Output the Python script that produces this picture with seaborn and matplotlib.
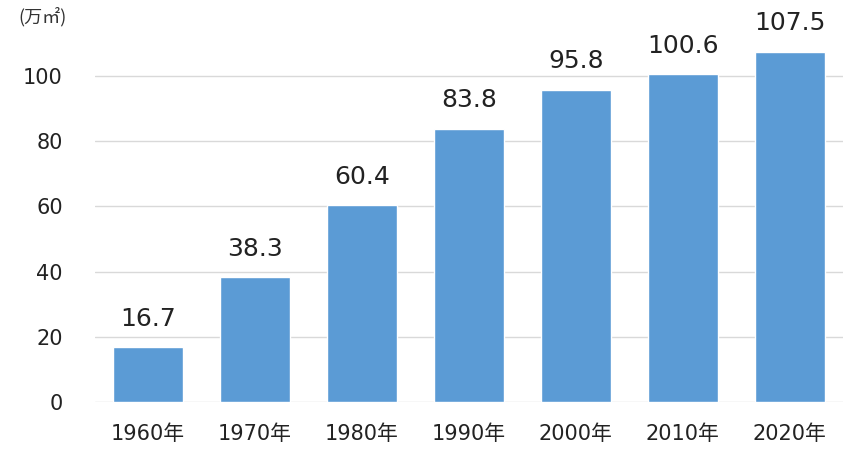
import pandas as pd
import matplotlib.pyplot as plt
import seaborn as sns

years = ['1960年', '1970年', '1980年', '1990年', '2000年', '2010年', '2020年']
areas = [16.7, 38.3, 60.4, 83.8, 95.8, 100.6, 107.5]

df = pd.DataFrame({'year': years, 'area': areas})

sns.set_style('white')
plt.rcParams['font.family'] = ['DejaVu Sans', 'Noto Sans CJK JP']

fig = plt.figure(figsize=(8.45, 4.5), dpi=100)
ax = fig.add_axes([0.112, 0.107, 0.886, 0.811])

sns.barplot(data=df, x='year', y='area', color='#5b9bd5', saturation=1,
            width=0.65, ax=ax, zorder=3)

# 数値ラベル
for i, v in enumerate(areas):
    ax.text(i, v + 5.0, f'{v}', ha='center', va='bottom', fontsize=18, color='#222222')

ax.set_ylim(0, 112)
ax.set_yticks(range(0, 101, 20))
ax.yaxis.grid(True, color='#d9d9d9', linewidth=1, zorder=0)
ax.set_axisbelow(True)
for s in ax.spines.values():
    s.set_visible(False)
ax.set_xlabel('')
ax.set_ylabel('')
ax.tick_params(axis='both', length=0, labelsize=15, colors='#222222')
ax.tick_params(axis='x', pad=16)
ax.tick_params(axis='y', pad=23)

fig.text(0.022, 0.962, '(万㎡)', fontsize=13, color='#333333', va='center',
         family=['Noto Sans CJK JP', 'DejaVu Sans'])

plt.savefig('out.png')
